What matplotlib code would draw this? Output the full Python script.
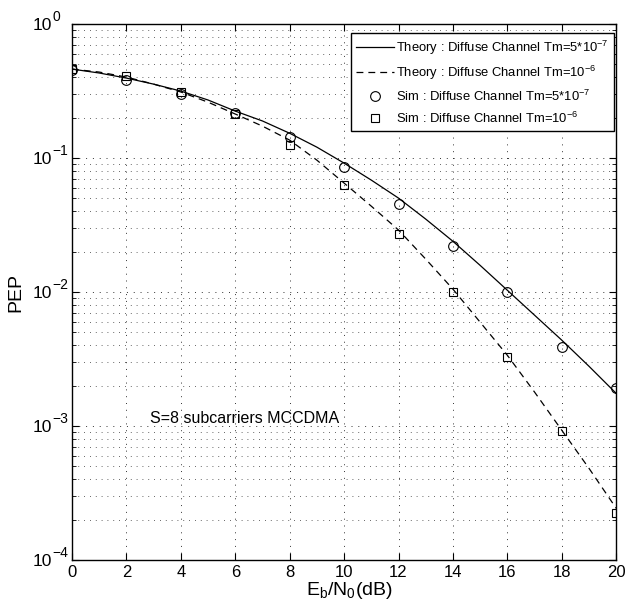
import numpy as np
import matplotlib
matplotlib.use('Agg')
import matplotlib.pyplot as plt
from matplotlib.ticker import LogLocator, NullFormatter

plt.rcParams['font.family'] = ['Liberation Sans', 'DejaVu Sans']
plt.rcParams['mathtext.fontset'] = 'custom'
plt.rcParams['mathtext.rm'] = 'Liberation Sans'
plt.rcParams['mathtext.it'] = 'Liberation Sans'

# values
snr_theory = list(range(0, 21))
theory_5e7 = [0.461, 0.431, 0.395, 0.356, 0.316, 0.271, 0.224, 0.189, 0.153, 0.1205,
              0.0916, 0.0684, 0.0502, 0.0350, 0.0239, 0.0158, 0.0103, 0.00671,
              0.00437, 0.00279, 0.00175]
theory_1e6 = [0.461, 0.438, 0.402, 0.356, 0.311, 0.261, 0.213, 0.173, 0.136, 0.0964,
              0.0650, 0.0437, 0.0290, 0.0176, 0.0105, 0.00595, 0.00337, 0.00179,
              0.000929, 0.000483, 0.000243]

snr_sim = [0, 2, 4, 6, 8, 10, 12, 14, 16, 18, 20]
sim_5e7 = [0.454, 0.382, 0.30, 0.217, 0.1435, 0.0857, 0.0454, 0.022, 0.0100, 0.0039, 0.00192]
sim_1e6 = [0.46, 0.41, 0.31, 0.213, 0.125, 0.063, 0.027, 0.0100, 0.0033, 0.00092, 0.000225]

decades = [-4, -3, -2, -1, 0]

fig = plt.figure(figsize=(6.27, 6.13), dpi=100)
ax = fig.add_axes([0.1148, 0.0865, 0.868, 0.8743])

ax.semilogy(snr_theory, theory_5e7, '-', color='k', lw=0.9,
            label='Theory : Diffuse Channel Tm=5*10$^{-7}$')
ax.semilogy(snr_theory, theory_1e6, '--', color='k', lw=0.9, dashes=(5.5, 4),
            label='Theory : Diffuse Channel Tm=10$^{-6}$')
ax.semilogy(snr_sim, sim_5e7, 'o', mfc='none', mec='k', ms=7, mew=0.8,
            label='Sim : Diffuse Channel Tm=5*10$^{-7}$')
ax.semilogy(snr_sim, sim_1e6, 's', mfc='none', mec='k', ms=5.5, mew=0.8,
            label='Sim : Diffuse Channel Tm=10$^{-6}$')

ax.set_xlim(0, 20)
ax.set_ylim(1e-4, 1)
ax.set_xticks(range(0, 21, 2))
ax.yaxis.set_major_locator(LogLocator(base=10, numticks=10))
ax.yaxis.set_minor_locator(LogLocator(base=10, subs=np.arange(2, 10), numticks=10))
ax.yaxis.set_minor_formatter(NullFormatter())

ax.grid(True, which='major', linestyle=(0, (1, 6)), color='#333333', lw=0.7)
ax.grid(True, which='minor', axis='y', linestyle=(0, (1, 6)), color='#333333', lw=0.6)
ax.tick_params(which='both', direction='in', top=True, right=True, labelsize=12)
ax.tick_params(axis='y', which='both', labelleft=False)
ax.tick_params(which='major', length=5)
ax.tick_params(which='minor', length=3)
for s in ax.spines.values():
    s.set_linewidth(1.0)

# MATLAB-like y tick labels: "10" with a large exponent
for e in decades:
    ax.annotate('10', xy=(0, 10.0 ** e), xytext=(-14.5, -1), textcoords='offset points',
                ha='right', va='center', fontsize=12.5)
    ax.annotate('\u2212%d' % -e if e < 0 else '0', xy=(0, 10.0 ** e), xytext=(-13.8, 5),
                textcoords='offset points', ha='left', va='center', fontsize=10)

ax.set_xlabel('E$_\\mathrm{b}$/N$_\\mathrm{0}$(dB)', fontsize=14)
ax.xaxis.set_label_coords(0.51, -0.038)
ax.set_ylabel('PEP', fontsize=14)
ax.yaxis.set_label_coords(-0.087, 0.5)

ax.text(2.87, 0.00105, 'S=8 subcarriers MCCDMA', fontsize=11.5, va='baseline')

leg = ax.legend(loc='upper right', bbox_to_anchor=(0.996, 0.983), borderaxespad=0,
                fontsize=9.4, frameon=True, fancybox=False, edgecolor='k', framealpha=1,
                handlelength=2.9, handletextpad=0.15, borderpad=0.42, labelspacing=0.52)
leg.get_frame().set_linewidth(1.0)

fig.savefig('out.png', dpi=100)
